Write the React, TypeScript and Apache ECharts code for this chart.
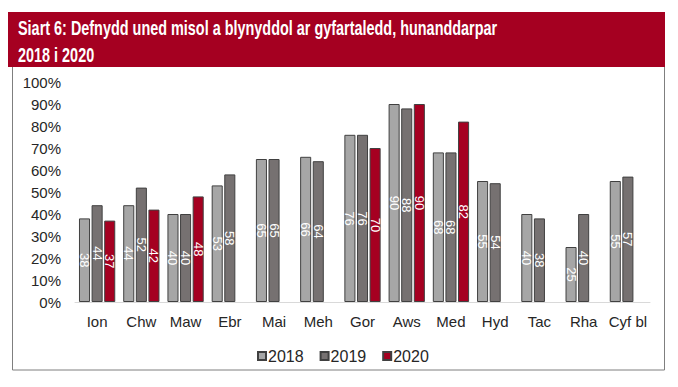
import React, { useEffect, useRef } from "react";
import * as echarts from "echarts";

const categories = ["Ion", "Chw", "Maw", "Ebr", "Mai", "Meh", "Gor", "Aws", "Med", "Hyd", "Tac", "Rha", "Cyf bl"];
const values2018 = [38, 44, 40, 53, 65, 66, 76, 90, 68, 55, 40, 25, 55];
const values2019 = [44, 52, 40, 58, 65, 64, 76, 88, 68, 54, 38, 40, 57];
const values2020: (number | null)[] = [37, 42, 48, null, null, null, 70, 90, 82, null, null, null, null];
const seriesNames = ["2018", "2019", "2020"];
const titleLine1 = "Siart 6: Defnydd uned misol a blynyddol ar gyfartaledd, hunanddarpar";
const titleLine2 = "2018 i 2020";

const RED = "#a50021";
const colors = ["#a6a6a6", "#767171", RED];

export default function App() {
  const ref = useRef<HTMLDivElement>(null);
  useEffect(() => {
    if (!ref.current) return;
    const chart = echarts.init(ref.current, undefined, { renderer: "svg" });
    const font = "'Liberation Sans', Arial, sans-serif";
    const mk = (name: string, data: (number | null)[], i: number) => ({
      name,
      type: "bar",
      data,
      barGap: "14%",
      barCategoryGap: "18%",
      itemStyle: { color: colors[i], borderColor: "#404040", borderWidth: 1 },
      label: {
        show: true,
        position: "inside",
        rotate: -90,
        color: "#ffffff",
        fontSize: 13,
        fontFamily: font,
        formatter: (p: any) => (p.value == null ? "" : String(p.value)),
      },
    });
    chart.setOption({
      animation: false,
      textStyle: { fontFamily: font },
      grid: { left: 75, right: 28, top: 82, bottom: 85, containLabel: false },
      xAxis: {
        type: "category",
        data: categories,
        axisLine: { lineStyle: { color: "#d9d9d9", width: 1 } },
        axisTick: { show: false },
        axisLabel: { color: "#262626", fontSize: 15, margin: 12, interval: 0, fontFamily: font },
      },
      yAxis: {
        type: "value",
        min: 0,
        max: 100,
        interval: 10,
        splitLine: { show: false },
        axisLine: { show: false },
        axisTick: { show: false },
        axisLabel: { color: "#262626", fontSize: 15, margin: 14, formatter: "{value}%", fontFamily: font },
      },
      legend: {
        data: seriesNames,
        top: 343,
        left: 252,
        icon: "rect",
        itemWidth: 8,
        itemHeight: 8,
        itemGap: 16,
        textStyle: { color: "#262626", fontSize: 16, fontFamily: font, padding: [0, 0, 0, -3] },
      },
      graphic: [
        {
          type: "rect",
          shape: { x: 12.5, y: 12.5, width: 652, height: 357.5 },
          style: { fill: "none", stroke: "#7f7f7f", lineWidth: 1 },
          z: -1,
        },
        {
          type: "rect",
          shape: { x: 8, y: 12, width: 657, height: 55 },
          style: { fill: RED },
          z: 0,
        },
        {
          type: "text",
          x: 18,
          y: 18,
          scaleX: 0.74,
          style: { text: titleLine1, fill: "#ffffff", font: "bold 19.5px 'Liberation Sans', Arial, sans-serif" },
          z: 1,
        },
        {
          type: "text",
          x: 18,
          y: 45.5,
          scaleX: 0.74,
          style: { text: titleLine2, fill: "#ffffff", font: "bold 19.5px 'Liberation Sans', Arial, sans-serif" },
          z: 1,
        },
      ],
      series: [mk(seriesNames[0], values2018, 0), mk(seriesNames[1], values2019, 1), mk(seriesNames[2], values2020, 2)],
    });
    return () => chart.dispose();
  }, []);
  return (
    <div
      ref={ref}
      style={{ position: "fixed", left: 0, top: 0, width: 678, height: 387, background: "#ffffff" }}
    />
  );
}
